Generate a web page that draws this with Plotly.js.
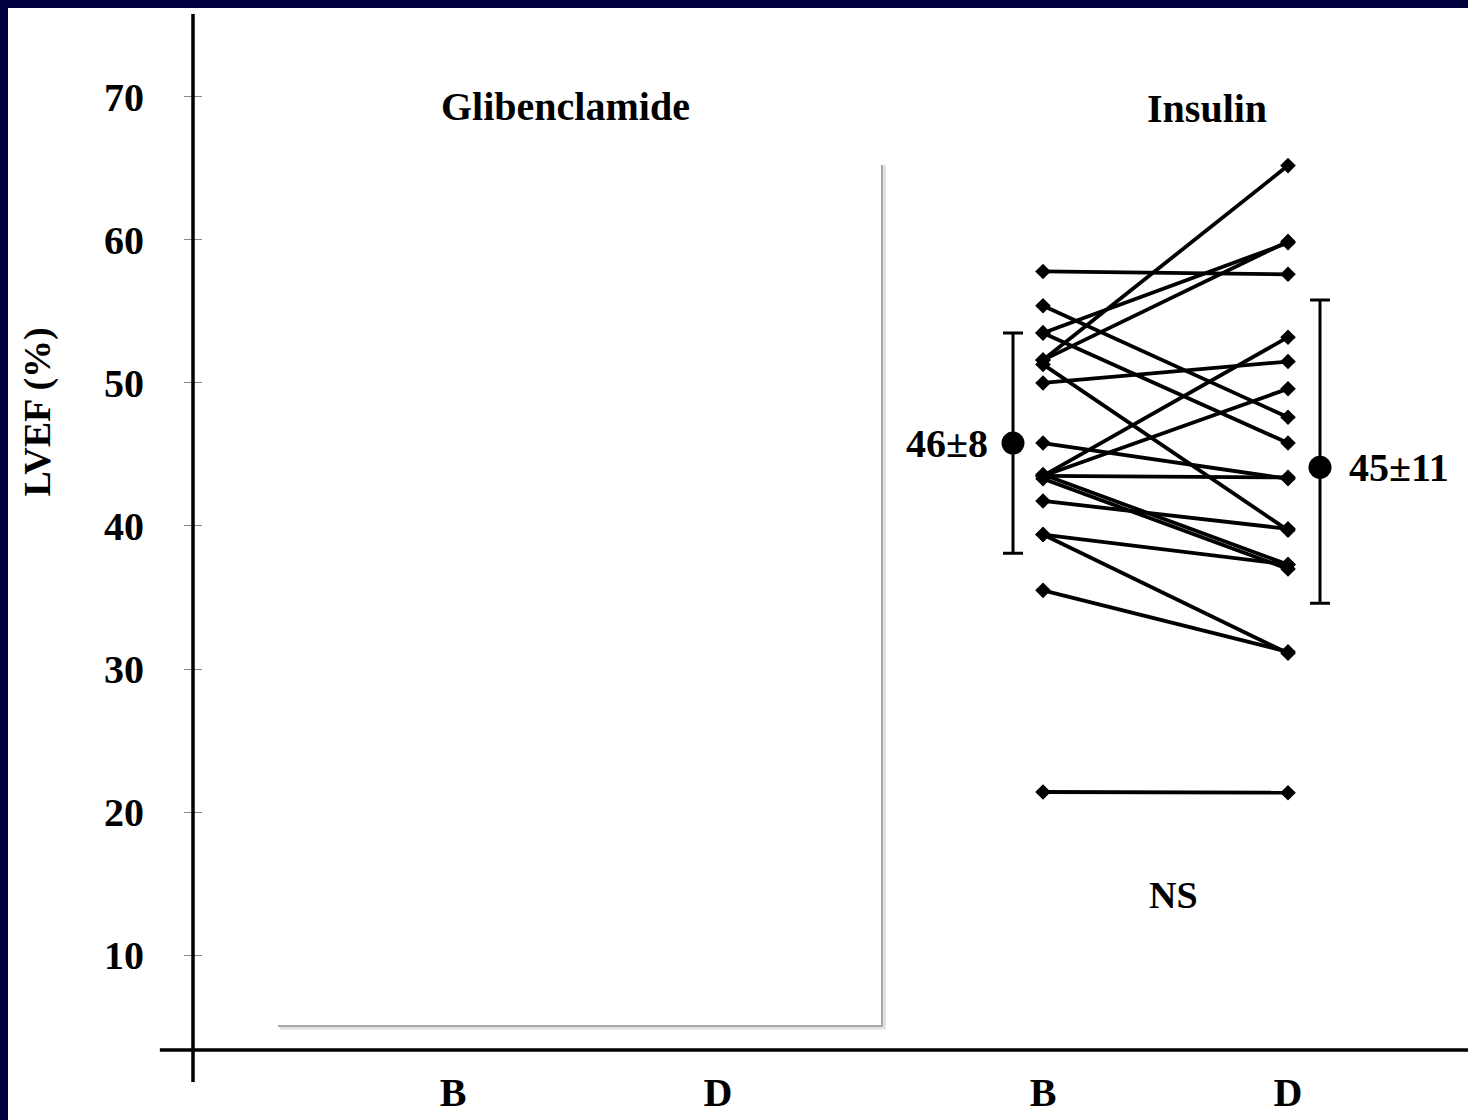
<!DOCTYPE html>
<html>
<head>
<meta charset="utf-8">
<script src="https://cdn.plot.ly/plotly-3.0.1.min.js"></script>
<style>
  html, body { margin: 0; padding: 0; background: #00003f; width: 1468px; height: 1120px; overflow: hidden; }
  #chart { position: absolute; left: 8px; top: 8px; width: 1460px; height: 1112px; background: #ffffff; }
</style>
</head>
<body>
<div id="chart"></div>
<script>
// ---- Data ----
const groupLabels = ["Glibenclamide", "Insulin"];
const timeLabels = ["B", "D", "B", "D"];
const yTicks = [10, 20, 30, 40, 50, 60, 70];

// Insulin group: individual LVEF (%) at baseline (B) and after (D)
const insulinB = [57.8, 55.4, 53.5, 53.5, 51.6, 51.6, 51.3, 50.0, 45.8, 43.5, 43.5, 43.5, 43.6, 43.3, 41.75, 39.4, 39.4, 35.5, 21.4];
const insulinD = [57.6, 47.6, 45.8, 59.8, 65.2, 59.9, 39.7, 51.5, 43.3, 53.2, 49.6, 43.4, 37.3, 37.0, 39.8, 37.3, 31.1, 31.2, 21.35];

// Group means and error-bar extents as drawn
const meanB = 45.8, errBUp = 7.7, errBDown = 7.7;
const meanD = 44.1, errDUp = 11.7, errDDown = 9.5;
const meanLabels = ["46±8", "45±11"];
const nsLabel = "NS";

// ---- Layout positions (x units, 1 unit = 100 px) ----
const xPos = [2.6, 5.25, 8.5, 10.95];
const xMeanB = 8.2, xMeanD = 11.27;

const serif = "Liberation Serif, Times New Roman, serif";
const traces = [];

for (let i = 0; i < insulinB.length; i++) {
  traces.push({
    x: [xPos[2], xPos[3]],
    y: [insulinB[i], insulinD[i]],
    type: "scatter",
    mode: "lines+markers",
    line: { color: "#000", width: 3.8 },
    marker: { symbol: "diamond", size: 12, color: "#000" },
    showlegend: false,
    hoverinfo: "y"
  });
}

traces.push({
  x: [xMeanB, xMeanD],
  y: [meanB, meanD],
  type: "scatter",
  mode: "markers",
  marker: { symbol: "circle", size: 23, color: "#000" },
  error_y: { type: "data", symmetric: false, array: [errBUp, errDUp], arrayminus: [errBDown, errDDown],
             visible: true, color: "#000", thickness: 3, width: 10 },
  showlegend: false
});

const yr = [3.36, 75.8];

const layout = {
  width: 1460,
  height: 1112,
  margin: { l: 185, r: 0, t: 6, b: 70 },
  paper_bgcolor: "#ffffff",
  plot_bgcolor: "rgba(0,0,0,0)",
  showlegend: false,
  xaxis: {
    range: [0, 12.75],
    showgrid: false,
    zeroline: false,
    showline: false,
    tickmode: "array",
    tickvals: xPos,
    ticktext: timeLabels,
    ticks: "",
    ticklabelstandoff: 15,
    tickfont: { family: serif, size: 40, color: "#000", weight: "bold" },
    fixedrange: true
  },
  yaxis: {
    range: yr,
    showgrid: false,
    zeroline: false,
    showline: false,
    tickmode: "array",
    tickvals: yTicks,
    ticks: "outside",
    ticklen: 8,
    tickwidth: 1,
    tickcolor: "#888",
    ticklabelstandoff: 32,
    tickfont: { family: serif, size: 40, color: "#000", weight: "bold" },
    fixedrange: true
  },
  yaxis2: {
    range: yr,
    overlaying: "y",
    showgrid: false,
    zeroline: false,
    showline: false,
    tickmode: "array",
    tickvals: yTicks,
    ticks: "inside",
    ticklen: 9,
    tickwidth: 1,
    tickcolor: "#888",
    showticklabels: false,
    fixedrange: true
  },
  shapes: [
    // y axis line (extends below the x axis)
    { type: "line", xref: "paper", yref: "paper", x0: 0, x1: 0, y0: -0.031, y1: 1.0, line: { color: "#000", width: 3.5 } },
    // x axis line (extends left of the y axis)
    { type: "line", xref: "paper", yref: "paper", x0: -0.026, x1: 1.0, y0: 0, y1: 0, line: { color: "#000", width: 3.5 } },
    // empty Glibenclamide panel frame (grey, with a faint shadow)
    { type: "path", xref: "x", yref: "y", path: "M 0.87 4.93 L 6.91 4.93 L 6.91 65.2", line: { color: "#e2e2e2", width: 4 } },
    { type: "path", xref: "x", yref: "y", path: "M 0.85 5.03 L 6.89 5.03 L 6.89 65.24", line: { color: "#a8a8a8", width: 2 } }
  ],
  annotations: [
    { text: groupLabels[0], x: 3.72, y: 69.3, xref: "x", yref: "y", showarrow: false,
      font: { family: serif, size: 40, color: "#000", weight: "bold" } },
    { text: groupLabels[1], x: 10.14, y: 69.2, xref: "x", yref: "y", showarrow: false,
      font: { family: serif, size: 40, color: "#000", weight: "bold" } },
    { text: "LVEF (%)", textangle: -90, xref: "paper", yref: "y", x: -0.1216, y: 48.0,
      xanchor: "center", yanchor: "middle", showarrow: false,
      font: { family: serif, size: 38, color: "#000", weight: "bold" } },
    { text: meanLabels[0], x: 7.97, y: meanB, xref: "x", yref: "y", xanchor: "right", showarrow: false,
      font: { family: serif, size: 40, color: "#000", weight: "bold" } },
    { text: meanLabels[1], x: 11.54, y: meanD, xref: "x", yref: "y", xanchor: "left", showarrow: false,
      font: { family: serif, size: 40, color: "#000", weight: "bold" } },
    { text: nsLabel, x: 9.8, y: 14.2, xref: "x", yref: "y", showarrow: false,
      font: { family: serif, size: 38, color: "#000", weight: "bold" } }
  ]
};

traces.forEach(t => { if (!t.yaxis) t.yaxis = "y"; });
// empty trace so that yaxis2 (inner tick marks) is drawn
traces.push({ x: [null], y: [null], yaxis: "y2", type: "scatter", mode: "markers", showlegend: false, hoverinfo: "skip" });

Plotly.newPlot("chart", traces, layout, { displayModeBar: false, staticPlot: true });
</script>
</body>
</html>
